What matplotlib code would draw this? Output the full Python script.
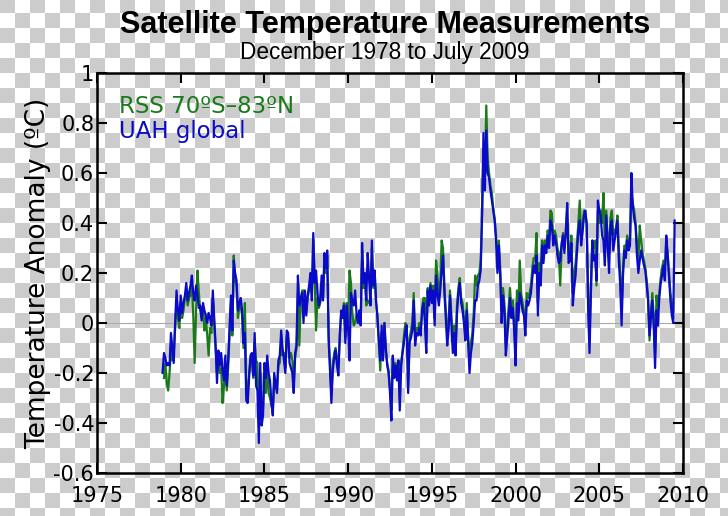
import matplotlib
matplotlib.use("Agg")
import matplotlib.pyplot as plt
import numpy as np

# UAH global monthly anomalies, Dec 1978 .. Jul 2009
uah_start = 1978 + 11 / 12.0
uah = [-0.20,
       -0.12, -0.14, -0.17, -0.16, -0.17, -0.04, -0.10, -0.16, 0.00, 0.13, 0.05, 0.01,    # 1979
       0.11, 0.04, 0.08, 0.11, 0.16, 0.09, 0.12, 0.15, 0.19, 0.12, 0.09, 0.15,            # 1980
       0.11, 0.06, 0.07, 0.01, 0.08, 0.05, 0.03, 0.00, 0.04, 0.02, -0.01, 0.13,           # 1981
       0.02, -0.09, -0.24, -0.11, -0.17, -0.12, -0.19, -0.23, -0.13, -0.25, -0.15, -0.02, # 1982
       0.11, -0.03, 0.25, 0.20, 0.17, 0.05, 0.08, 0.10, 0.05, -0.08, -0.04, -0.31,        # 1983
       -0.32, -0.22, -0.13, -0.12, -0.21, -0.04, -0.25, -0.27, -0.48, -0.16, -0.41, -0.37, # 1984
       -0.16, -0.22, -0.13, -0.20, -0.23, -0.32, -0.37, -0.20, -0.24, -0.28, -0.15, -0.13, # 1985
       -0.03, -0.10, -0.15, -0.20, -0.03, -0.04, -0.16, -0.18, -0.20, -0.28, -0.12, -0.09, # 1986
       0.19, 0.07, 0.10, 0.12, 0.00, 0.13, 0.03, 0.11, 0.15, 0.20, 0.09, 0.36,            # 1987
       0.16, 0.21, 0.12, 0.07, 0.09, 0.19, 0.09, 0.28, 0.22, 0.29, -0.07, -0.19,          # 1988
       -0.32, -0.19, -0.14, -0.11, -0.17, -0.21, -0.05, 0.05, 0.02, 0.07, -0.08, 0.07,    # 1989
       -0.03, -0.15, 0.12, 0.09, 0.07, 0.13, 0.04, 0.00, 0.05, -0.01, 0.32, 0.16,         # 1990
       0.20, 0.09, 0.28, 0.18, 0.07, 0.33, 0.15, 0.21, 0.09, 0.02, -0.07, -0.15,          # 1991
       -0.01, -0.15, 0.00, -0.10, -0.17, -0.20, -0.28, -0.39, -0.13, -0.22, -0.17, -0.23, # 1992
       -0.15, -0.35, -0.17, -0.12, -0.08, -0.03, -0.01, -0.28, -0.08, -0.06, -0.03, 0.09, # 1993
       -0.09, -0.04, -0.05, -0.02, -0.05, 0.05, 0.08, 0.00, -0.12, 0.13, 0.07, 0.15,      # 1994
       0.08, 0.13, -0.01, 0.19, 0.12, 0.07, 0.13, 0.21, 0.27, 0.12, 0.02, -0.09,          # 1995
       -0.03, 0.11, 0.00, -0.12, -0.04, -0.13, 0.04, 0.12, 0.16, 0.08, 0.05, 0.00,        # 1996
       -0.07, 0.05, -0.08, -0.20, -0.12, -0.08, 0.00, 0.09, 0.09, 0.15, 0.17, 0.21,       # 1997
       0.43, 0.76, 0.53, 0.77, 0.60, 0.58, 0.53, 0.49, 0.45, 0.41, 0.33, 0.20,            # 1998
       0.31, 0.19, 0.00, 0.11, 0.05, -0.13, -0.06, 0.02, 0.10, 0.02, 0.06, -0.03,         # 1999
       -0.17, 0.08, 0.01, 0.12, 0.09, 0.05, 0.03, -0.05, 0.09, 0.07, 0.09, 0.12,          # 2000
       0.18, 0.23, 0.20, 0.27, 0.03, 0.20, 0.15, 0.31, 0.24, 0.31, 0.28, 0.35,            # 2001
       0.30, 0.41, 0.39, 0.31, 0.35, 0.32, 0.27, 0.24, 0.25, 0.32, 0.35, 0.28,            # 2002
       0.36, 0.48, 0.24, 0.25, 0.32, 0.07, 0.14, 0.19, 0.28, 0.37, 0.41, 0.31,            # 2003
       0.36, 0.43, 0.45, 0.39, 0.06, -0.12, 0.12, 0.33, 0.25, 0.27, 0.17, 0.49,           # 2004
       0.45, 0.43, 0.35, 0.33, 0.23, 0.43, 0.31, 0.20, 0.39, 0.41, 0.29, 0.33,            # 2005
       0.37, 0.41, 0.25, 0.15, -0.01, 0.19, 0.29, 0.26, 0.33, 0.29, 0.31, 0.60,           # 2006
       0.47, 0.42, 0.39, 0.27, 0.20, 0.25, 0.29, 0.26, 0.23, 0.21, 0.15, 0.09,            # 2007
       -0.05, 0.02, 0.09, -0.01, -0.18, 0.05, -0.01, 0.10, 0.16, 0.19, 0.23, 0.17,        # 2008
       0.35, 0.27, 0.18, 0.09, 0.03, 0.00, 0.41]                                          # 2009

# RSS 70S-83N monthly anomalies, Jan 1979 .. Jun 2009
rss_start = 1979.0
rss = [-0.22, -0.16, -0.24, -0.27, -0.20, -0.10, -0.15, -0.12, -0.02, 0.08, 0.02, -0.02,  # 1979
       0.08, 0.02, 0.05, 0.10, 0.12, 0.07, 0.10, 0.11, 0.15, 0.03, -0.16, 0.05,           # 1980
       0.21, 0.12, 0.05, 0.02, 0.06, -0.03, 0.02, -0.05, -0.13, -0.02, -0.04, 0.10,       # 1981
       0.00, -0.10, -0.20, -0.13, -0.20, -0.18, -0.32, -0.25, -0.17, -0.27, -0.18, -0.05, # 1982
       0.08, -0.05, 0.27, 0.17, 0.15, 0.02, 0.06, 0.07, 0.03, -0.10, 0.08, -0.27,         # 1983
       -0.28, -0.20, -0.15, -0.15, -0.22, -0.08, -0.15, -0.16, -0.42, -0.20, -0.38, -0.34, # 1984
       -0.20, -0.28, -0.18, -0.28, -0.30, -0.33, -0.35, -0.24, -0.25, -0.27, -0.17, -0.16, # 1985
       -0.08, -0.13, -0.12, -0.18, -0.05, -0.06, -0.14, -0.12, -0.15, -0.24, -0.14, -0.10, # 1986
       0.12, -0.09, 0.08, 0.13, 0.13, 0.10, 0.05, 0.10, 0.13, 0.18, 0.12, 0.33,           # 1987
       0.18, -0.03, 0.10, 0.06, 0.08, 0.16, 0.10, 0.25, 0.20, 0.27, -0.04, -0.16,         # 1988
       -0.28, -0.17, -0.12, -0.10, -0.14, -0.18, -0.06, 0.04, 0.03, 0.08, -0.06, 0.08,    # 1989
       0.00, 0.21, 0.16, 0.04, -0.01, 0.00, 0.03, 0.02, 0.05, 0.01, 0.29, 0.14,           # 1990
       0.18, 0.07, 0.09, 0.08, 0.09, 0.30, 0.14, 0.20, 0.08, 0.03, -0.08, -0.19,          # 1991
       -0.04, -0.13, 0.00, -0.11, -0.16, -0.19, -0.26, -0.35, -0.14, -0.20, -0.16, -0.21, # 1992
       -0.15, -0.30, -0.16, -0.11, -0.05, 0.00, -0.01, -0.25, -0.06, -0.03, 0.00, 0.12,   # 1993
       -0.05, -0.02, -0.03, 0.00, -0.03, 0.06, 0.10, 0.10, -0.08, 0.14, 0.10, 0.16,       # 1994
       0.12, 0.15, 0.02, 0.25, 0.20, 0.10, 0.16, 0.33, 0.30, 0.15, 0.05, -0.05,           # 1995
       0.00, 0.13, 0.03, -0.08, -0.01, -0.10, 0.07, 0.14, 0.18, 0.10, 0.08, 0.02,         # 1996
       -0.04, 0.08, -0.05, -0.15, -0.08, -0.04, 0.04, 0.19, 0.15, 0.19, 0.20, 0.25,       # 1997
       0.45, 0.70, 0.57, 0.87, 0.66, 0.60, 0.55, 0.52, 0.46, 0.42, 0.35, 0.25,            # 1998
       0.33, 0.22, 0.05, 0.14, 0.08, -0.08, -0.02, 0.06, 0.14, 0.05, 0.09, 0.00,          # 1999
       -0.12, 0.13, 0.05, 0.25, 0.12, 0.08, 0.05, -0.02, 0.12, 0.10, 0.12, 0.15,          # 2000
       0.22, 0.26, 0.25, 0.36, 0.08, 0.24, 0.20, 0.33, 0.27, 0.33, 0.30, 0.37,            # 2001
       0.33, 0.45, 0.44, 0.34, 0.37, 0.35, 0.30, 0.28, 0.15, 0.30, 0.36, 0.30,            # 2002
       0.37, 0.46, 0.28, 0.28, 0.35, 0.12, 0.20, 0.24, 0.32, 0.40, 0.49, 0.35,            # 2003
       0.38, 0.45, 0.44, 0.40, 0.12, -0.05, 0.15, 0.33, 0.30, 0.33, 0.15, 0.45,           # 2004
       0.40, 0.45, 0.40, 0.52, 0.30, 0.45, 0.35, 0.28, 0.42, 0.45, 0.35, 0.37,            # 2005
       0.38, 0.43, 0.30, 0.20, 0.05, 0.22, 0.31, 0.30, 0.35, 0.32, 0.33, 0.52,            # 2006
       0.48, 0.45, 0.40, 0.32, 0.25, 0.39, 0.33, 0.28, 0.25, 0.22, 0.17, 0.10,            # 2007
       -0.07, 0.05, 0.12, 0.03, -0.12, 0.11, 0.05, 0.12, 0.18, 0.22, 0.25, 0.20,          # 2008
       0.33, 0.28, 0.20, 0.12, 0.08, 0.02]                                                # 2009

xticks = [1975, 1980, 1985, 1990, 1995, 2000, 2005, 2010]
yticks = [1, 0.8, 0.6, 0.4, 0.2, 0, -0.2, -0.4, -0.6]
ytick_labels = ["1", "0.8", "0.6", "0.4", "0.2", "0", "-0.2", "-0.4", "-0.6"]

uah_t = uah_start + np.arange(len(uah)) / 12.0
rss_t = rss_start + np.arange(len(rss)) / 12.0

W, H = 728, 516
fig = plt.figure(figsize=(W / 100, H / 100), dpi=100)

# transparency checkerboard behind everything
yy, xx = np.mgrid[0:H, 0:W]
checker = (((yy + 2) // 15 + xx // 15) % 2 == 0)
bg = np.where(checker, 0.8, 1.0)
fig.figimage(np.dstack([bg, bg, bg]), xo=0, yo=0, origin="upper", zorder=-10)

ax = fig.add_axes([97 / W, 43 / H, 586 / W, 400 / H])
ax.set_facecolor("none")
ax.set_zorder(1)

ax.axhline(0, color="#aaaaaa", lw=0.8, zorder=1)
ax.plot(rss_t, rss, color="#1a7a1a", lw=1.6, label="RSS 70ºS–83ºN", zorder=2)
ax.plot(uah_t, uah, color="#0a0ac8", lw=1.6, label="UAH global", zorder=3)

ax.set_xlim(1975, 2010)
ax.set_ylim(-0.6, 1)
ax.set_xticks(xticks)
ax.set_yticks(yticks)
ax.set_yticklabels(ytick_labels)
ax.tick_params(direction="in", length=7, width=1.5, labelsize=15,
               top=True, right=True)
ax.tick_params(axis="x", pad=9)
ax.tick_params(axis="y", pad=2)
for s in ax.spines.values():
    s.set_linewidth(1.8)

ax.set_ylabel("Temperature Anomaly (ºC)", fontsize=19, labelpad=2)

leg = ax.legend(loc="upper left", frameon=False, handlelength=0, handletextpad=0,
                fontsize=16.5, labelcolor="linecolor", borderaxespad=0.55,
                labelspacing=0.08)
for h in leg.legend_handles:
    h.set_visible(False)

fig.text(385 / W, 1 - 25 / H, "Satellite Temperature Measurements", ha="center", va="center",
         fontsize=22, fontweight="bold", family="Liberation Sans", zorder=2)
fig.text(385 / W, 1 - 52 / H, "December 1978 to July 2009", ha="center", va="center",
         fontsize=16.3, family="Liberation Sans", zorder=2)

fig.savefig("out.png", dpi=100)
